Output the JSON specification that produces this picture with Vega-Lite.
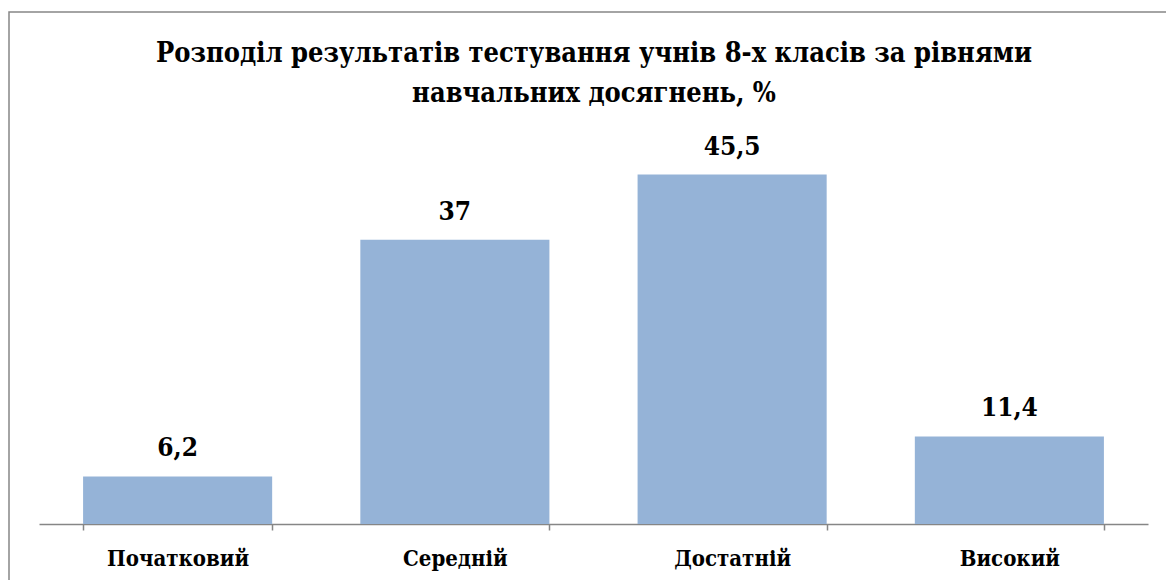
{
  "$schema": "https://vega.github.io/schema/vega-lite/v6.json",
  "autosize": {"type": "none"},
  "padding": {"left": 9, "top": 12, "right": 0, "bottom": 0},
  "width": 1170,
  "height": 580,
  "background": "white",
  "title": {
    "text": ["Розподіл результатів тестування учнів 8-х класів за рівнями", "навчальних досягнень, %"],
    "font": "DejaVu Serif Condensed",
    "fontSize": 27,
    "fontWeight": "bold",
    "color": "black",
    "anchor": "middle",
    "baseline": "alphabetic",
    "offset": -117,
    "lineHeight": 40
  },
  "data": {
    "values": [
      {"level": "Початковий", "value": 6.2, "label": "6,2"},
      {"level": "Середній", "value": 37, "label": "37"},
      {"level": "Достатній", "value": 45.5, "label": "45,5"},
      {"level": "Високий", "value": 11.4, "label": "11,4"}
    ]
  },
  "encoding": {
    "x": {
      "field": "level",
      "type": "nominal",
      "sort": null,
      "scale": {"range": [30, 1139], "paddingInner": 0.318, "paddingOuter": 0.159},
      "axis": {
        "title": null,
        "orient": "bottom",
        "offset": -68,
        "labelAngle": 0,
        "domainColor": "#868686",
        "domainWidth": 1.5,
        "tickColor": "#868686",
        "tickWidth": 1.5,
        "tickSize": 6,
        "tickBand": "extent",
        "labelFont": "DejaVu Serif Condensed",
        "labelFontSize": 22,
        "labelFontWeight": "bold",
        "labelColor": "black",
        "labelPadding": 35,
        "labelBaseline": "alphabetic"
      }
    },
    "y": {
      "field": "value",
      "type": "quantitative",
      "scale": {"domain": [0, 50], "range": [512, 128], "nice": false, "zero": true},
      "axis": null
    }
  },
  "layer": [
    {"mark": {"type": "bar", "color": "#95B3D7"}},
    {
      "mark": {
        "type": "text",
        "dy": -20,
        "baseline": "alphabetic",
        "align": "center",
        "font": "DejaVu Serif Condensed",
        "fontSize": 26,
        "fontWeight": "bold",
        "color": "black"
      },
      "encoding": {"text": {"field": "label"}}
    }
  ],
  "config": {
    "view": {"stroke": "#868686", "strokeWidth": 1.5}
  }
}
